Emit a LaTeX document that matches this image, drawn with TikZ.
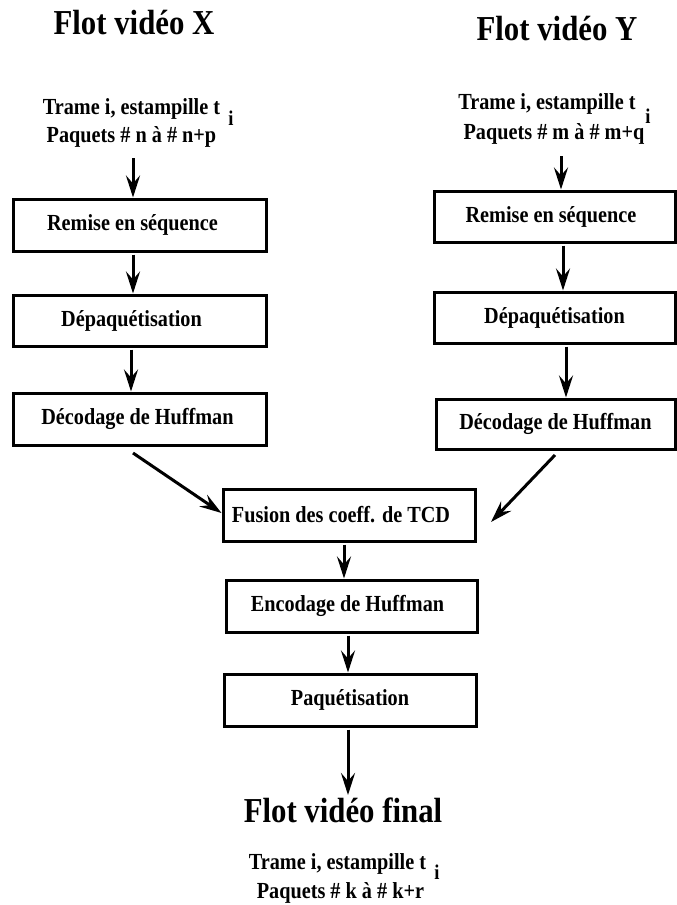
\documentclass[tikz,border=0pt]{standalone}
\usepackage{fontspec}
\setmainfont{Liberation Serif}[FakeStretch=0.88]
\usetikzlibrary{arrows.meta}
\begin{document}
\begin{tikzpicture}[x=1pt,y=-1pt,
  every node/.style={inner sep=0pt, outer sep=0pt},
  txt/.style={font=\fontsize{23}{28}\selectfont\bfseries, anchor=base},
  subi/.style={font=\fontsize{21}{24}\selectfont\bfseries, anchor=base},
  ttl/.style={font=\fontsize{35}{40}\selectfont\bfseries, anchor=base},
  stagebox/.style={draw, line width=3pt, outer sep=1.5pt, minimum height=52pt,
                   font=\fontsize{23}{28}\selectfont\bfseries},
  arr/.style={line width=3pt, -{Stealth[length=22pt,width=14pt,inset=8pt]}}]
\useasboundingbox (0,0) rectangle (677,905);

% titles
\node[ttl] (tX) at (134,34) {Flot vidéo X};
\node[ttl] (tY) at (557,40) {Flot vidéo Y};
\node[ttl] (tF) at (343,822) {Flot vidéo final};

% frame / packet labels
\node[txt] (hx1) at (131.5,114) {Trame i, estampille t};
\node[txt] (hx2) at (131.5,142) {Paquets \# n à \# n+p};
\node[subi] (hxi) at (231,125) {i};
\node[txt] (hy1) at (547,109) {Trame i, estampille t};
\node[txt] (hy2) at (554,139) {Paquets \# m à \# m+q};
\node[subi] (hyi) at (648,123) {i};
\node[txt] (hf1) at (337.5,869) {Trame i, estampille t};
\node[txt] (hf2) at (340.5,898) {Paquets \# k à \# k+r};
\node[subi] (hfi) at (437,879) {i};

% left chain
\node[stagebox, minimum width=253pt] (L1) at (139.5,225) {Remise en séquence\hspace*{14pt}};
\node[stagebox, minimum width=253pt, minimum height=51pt] (L2) at (139.5,320.5) {Dépaquétisation\hspace*{16pt}};
\node[stagebox, minimum width=253pt] (L3) at (139.5,419) {Décodage de Huffman\hspace*{4pt}};

% right chain
\node[stagebox, minimum width=241pt, minimum height=51pt] (R1) at (554.5,216.5) {Remise en séquence\hspace*{7pt}};
\node[stagebox, minimum width=241pt, minimum height=51pt] (R2) at (554.5,317.5) {Dépaquétisation};
\node[stagebox, minimum width=239pt, minimum height=50pt] (R3) at (555.5,424) {Décodage de Huffman};

% merged chain
\node[stagebox, minimum width=252pt] (Fus) at (349,515) {Fusion des coeff. de TCD\hspace*{16pt}};
\node[stagebox, minimum width=251pt] (Enc) at (351.5,606) {Encodage de Huffman\hspace*{8pt}};
\node[stagebox, minimum width=252pt] (Paq) at (350,700) {Paquétisation};

% free arrow ends
\coordinate (hxa) at (133,158);
\coordinate (hya) at (561,156);
\coordinate (dl) at (133,453);
\coordinate (dr0) at (555,455);
\coordinate (dr1) at (491,522);
\coordinate (fend) at (348,795);

% connectors
\draw[arr] (hxa) -- (hxa |- L1.north);
\draw[arr] ([xshift=-6.5pt,yshift=-2pt]L1.south) -- ([xshift=-6.5pt]L2.north);
\draw[arr] ([xshift=-8.5pt,yshift=-2pt]L2.south) -- ([xshift=-8.5pt]L3.north);

\draw[arr] (hya) -- (hya |- R1.north);
\draw[arr] ([xshift=8.5pt,yshift=-2pt]R1.south) -- ([xshift=8.5pt]R2.north);
\draw[arr] ([xshift=11.5pt,yshift=-2pt]R2.south) -- ([xshift=10.5pt]R3.north);

\draw[arr] (dl) -- ([yshift=2pt]Fus.west);
\draw[arr] (dr0) -- (dr1);

\draw[arr] ([xshift=-5pt,yshift=-2pt]Fus.south) -- ([xshift=-7.5pt]Enc.north);
\draw[arr] ([xshift=-3.5pt,yshift=-2pt]Enc.south) -- ([xshift=-2pt]Paq.north);
\draw[arr] ([xshift=-2pt,yshift=-2pt]Paq.south) -- (fend);
\end{tikzpicture}
\end{document}
